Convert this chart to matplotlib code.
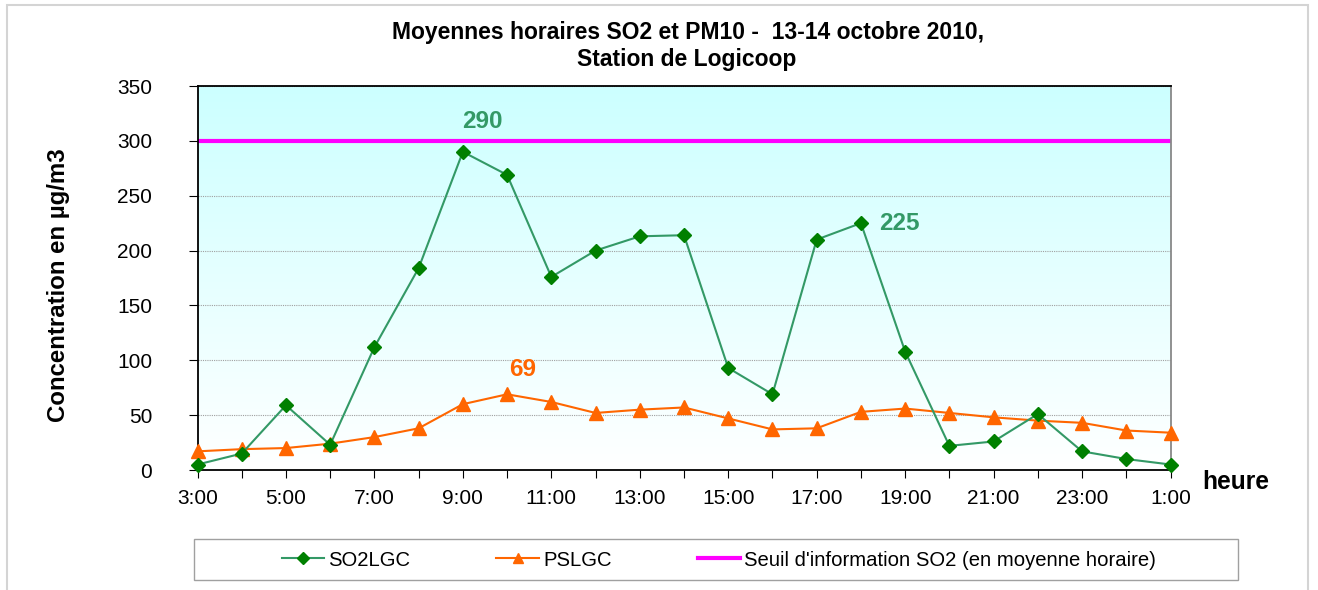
import matplotlib
matplotlib.use("Agg")
import matplotlib.pyplot as plt
import numpy as np
from matplotlib.patches import Rectangle
from matplotlib.colors import LinearSegmentedColormap

plt.rcParams['font.family'] = ['Liberation Sans', 'DejaVu Sans']

# data
hours = ['3:00', '4:00', '5:00', '6:00', '7:00', '8:00', '9:00', '10:00', '11:00',
         '12:00', '13:00', '14:00', '15:00', '16:00', '17:00', '18:00', '19:00',
         '20:00', '21:00', '22:00', '23:00', '0:00', '1:00']
so2 = [5, 15, 59, 23, 112, 184, 290, 269, 176, 200, 213, 214, 93, 69, 210, 225,
       108, 22, 26, 51, 17, 10, 5]
pm10 = [17, 19, 20, 24, 30, 38, 60, 69, 62, 52, 55, 57, 47, 37, 38, 53, 56, 52,
        48, 45, 43, 36, 34]
seuil = 300

x = np.arange(len(hours))

W, H = 1318, 590
fig = plt.figure(figsize=(W/100, H/100), dpi=100)
ax = fig.add_axes([197.5/W, 1-470/H, (1170.5-197.5)/W, (470-86)/H])

# outer frame of the chart
fig.patches.append(Rectangle((7/W, -0.01), (1308-7)/W, 1-5/H+0.01,
                             transform=fig.transFigure, fill=False,
                             edgecolor='#d4d4d4', linewidth=1.5))

# gradient background (white at bottom -> light cyan at top)
grad = LinearSegmentedColormap.from_list('bg', ['#ffffff', '#ccffff'])
ax.imshow(np.linspace(0, 1, 256).reshape(-1, 1), cmap=grad, aspect='auto',
          extent=[0, 1, 0, 1], transform=ax.transAxes, origin='lower', zorder=0)

ax.set_xlim(0, len(hours) - 1)
ax.set_ylim(0, 350)

for yv in range(50, 351, 50):
    ax.axhline(yv, color='#a0a0a0', lw=0.8, ls=(0, (1, 1)), zorder=1)

ax.axhline(seuil, color='#ff00ff', lw=3, zorder=2,
           label="Seuil d'information SO2 (en moyenne horaire)")
ax.plot(x, so2, color='#339966', lw=1.5, marker='D', markersize=7.5,
        markerfacecolor='#008000', markeredgecolor='#008000', zorder=4,
        label='SO2LGC', clip_on=False)
ax.plot(x, pm10, color='#ff6600', lw=1.5, marker='^', markersize=9.5,
        markerfacecolor='#ff6600', markeredgecolor='#ff6600', zorder=3,
        label='PSLGC', clip_on=False)

# data labels
ax.text(6.44, 318, '290', color='#339966', fontsize=17.5, fontweight='bold',
        ha='center', va='center')
ax.text(15.88, 225, '225', color='#339966', fontsize=17.5, fontweight='bold',
        ha='center', va='center')
ax.text(7.35, 92, '69', color='#ff6600', fontsize=17.5, fontweight='bold',
        ha='center', va='center')

ax.set_xticks(x)
ax.set_xticklabels([h if i % 2 == 0 else '' for i, h in enumerate(hours)],
                   fontsize=15)
ax.set_yticks(range(0, 351, 50))
ax.tick_params(axis='y', labelsize=15, length=6.5, direction='out', pad=26)
ax.tick_params(axis='x', length=6, direction='out', pad=7.5)

for s in ['left', 'top', 'bottom']:
    ax.spines[s].set_color('black')
    ax.spines[s].set_linewidth(1.3)
ax.spines['right'].set_color('#888888')
ax.spines['right'].set_linewidth(1.3)

fig.text(59/W, 1-285/H, 'Concentration en µg/m3', fontsize=17.3,
         fontweight='bold', rotation=90, ha='center', va='center')
fig.text(1202/W, 1-489/H, 'heure', fontsize=17.7, fontweight='bold',
         ha='left', va='baseline')

fig.text(688/W, 1-39.3/H, 'Moyennes horaires SO2 et PM10 -  13-14 octobre 2010,',
         fontsize=16.5, fontweight='bold', ha='center', va='baseline')
fig.text(687/W, 1-66/H, 'Station de Logicoop',
         fontsize=16.5, fontweight='bold', ha='center', va='baseline')

# legend box
fig.patches.append(Rectangle((194/W, 1-580/H), (1238-194)/W, 41/H,
                             transform=fig.transFigure, fill=False,
                             edgecolor='#a0a0a0', linewidth=1))
handles, labels = ax.get_legend_handles_labels()
order = [1, 2, 0]
fig.legend([handles[i] for i in order], [labels[i] for i in order],
           loc='center', bbox_to_anchor=(719/W, 1-560/H), ncol=3,
           frameon=False, fontsize=14.6, handlelength=2.1, handletextpad=0.2,
           columnspacing=4.25, markerscale=0.8)

fig.savefig('out.png', dpi=100)
